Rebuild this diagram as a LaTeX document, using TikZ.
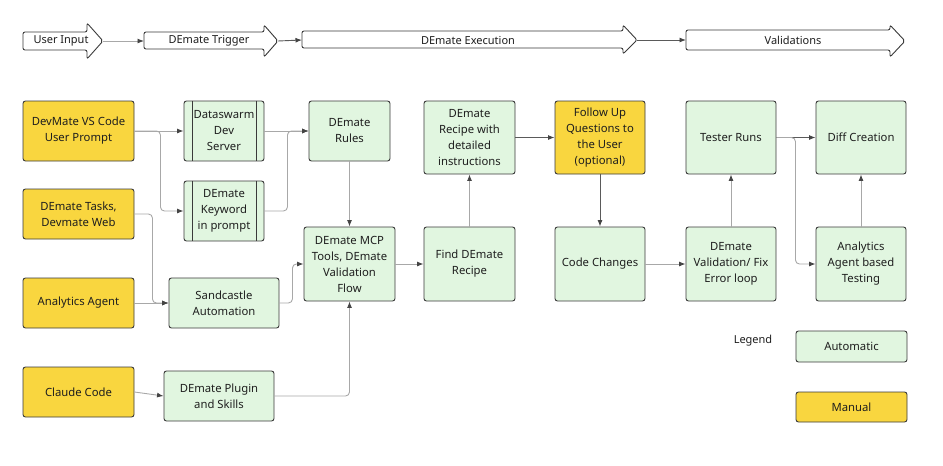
\documentclass[tikz,border=0pt]{standalone}
\usepackage{fontspec}
\setmainfont{Noto Sans}
\usetikzlibrary{arrows.meta}
\definecolor{autofill}{HTML}{E1F6E0}
\definecolor{manfill}{HTML}{F9D63F}
\definecolor{boxborder}{HTML}{3A3A3A}
\definecolor{linelight}{HTML}{A8A8A8}
\definecolor{linedark}{HTML}{5A5A5A}
\definecolor{tipcol}{HTML}{444444}
\definecolor{textcol}{HTML}{1E1E1E}
\tikzset{
  box/.style={draw=boxborder, line width=0.9pt, rounded corners=2.5pt, align=center,
    font=\fontsize{11.3}{16}\selectfont, inner sep=2pt, text=textcol},
  autobox/.style={box, fill=autofill},
  manbox/.style={box, fill=manfill},
  conn/.style={draw=linelight, line width=0.9pt, rounded corners=4pt,
    -{Latex[length=6.5pt,width=5pt,color=tipcol]}},
  conndark/.style={conn, draw=linedark},
  phase/.style={draw=boxborder, line width=0.9pt, fill=white, rounded corners=2pt},
  phasetext/.style={font=\fontsize{11}{13}\selectfont, text=textcol, inner sep=0pt},
}
\begin{document}
\begin{tikzpicture}[x=1pt,y=-1pt]
\useasboundingbox (0,0) rectangle (943,466);

% phase arrows
\draw[phase] (23,32) -- (87,32) -- (87,23) -- (103,41) -- (87,59) -- (87,50) -- (23,50) -- cycle;
\node[phasetext] (ui) at (61,41) {User Input};
\coordinate (uiTip) at (103,41);
\coordinate (trTail) at (144,41);
\draw[phase] (144,32) -- (264,32) -- (264,25) -- (278,41) -- (264,57) -- (264,49) -- (144,49) -- cycle;
\node[phasetext] (tr) at (209,41) {DEmate Trigger};
\coordinate (trTip) at (278,41);
\coordinate (exTail) at (302,40);
\draw[phase] (302,31) -- (623,31) -- (623,25) -- (637,40) -- (623,54) -- (623,48) -- (302,48) -- cycle;
\node[phasetext] (ex) at (468,40) {DEmate Execution};
\coordinate (exTip) at (637,40);
\coordinate (vaTail) at (686,40);
\draw[phase] (686,30) -- (890,30) -- (890,25) -- (905,41) -- (890,57) -- (890,50) -- (686,50) -- cycle;
\node[phasetext] (va) at (793,40) {Validations};

\draw[conn] (uiTip) -- (trTail);
\draw[conndark] (trTip) -- (exTail);
\draw[conndark] (exTip) -- (vaTail);

% left column (manual)
\node[manbox, minimum width=111pt, minimum height=60pt] (devmate) at (78.5,131) {DevMate VS Code\\User Prompt};
\node[manbox, minimum width=111pt, minimum height=50pt] (tasks) at (78.5,214) {DEmate Tasks,\\Devmate Web};
\node[manbox, minimum width=111pt, minimum height=50pt] (analytics) at (78.5,303) {Analytics Agent};
\node[manbox, minimum width=111pt, minimum height=50pt] (claude) at (78.5,392) {Claude Code};

% triggers
\node[autobox, minimum width=80pt, minimum height=60pt] (dataswarm) at (224,131) {Dataswarm\\Dev\\Server};
\draw[boxborder, line width=0.9pt] ([xshift=9pt]dataswarm.north west) -- ([xshift=9pt]dataswarm.south west);
\draw[boxborder, line width=0.9pt] ([xshift=-8pt]dataswarm.north east) -- ([xshift=-8pt]dataswarm.south east);
\node[autobox, minimum width=80pt, minimum height=60pt] (keyword) at (224,211) {DEmate\\Keyword\\in prompt};
\draw[boxborder, line width=0.9pt] ([xshift=9pt]keyword.north west) -- ([xshift=9pt]keyword.south west);
\draw[boxborder, line width=0.9pt] ([xshift=-8pt]keyword.north east) -- ([xshift=-8pt]keyword.south east);
\node[autobox, minimum width=110pt, minimum height=50pt] (sandcastle) at (224,303) {Sandcastle\\Automation};
\node[autobox, minimum width=110pt, minimum height=50pt] (plugin) at (219,396) {DEmate Plugin\\and Skills};

% execution
\node[autobox, minimum width=81pt, minimum height=60pt] (rules) at (349.5,131) {DEmate\\Rules};
\node[autobox, minimum width=91pt, minimum height=74pt] (mcp) at (349.5,264) {DEmate MCP\\Tools, DEmate\\Validation\\Flow};
\node[autobox, minimum width=91pt, minimum height=73pt] (recipe) at (469.5,137.5) {DEmate\\Recipe with\\detailed\\instructions};
\node[autobox, minimum width=91pt, minimum height=74pt] (find) at (469.5,264) {Find DEmate\\Recipe};
\node[manbox, minimum width=90pt, minimum height=73pt] (follow) at (600,137.5) {Follow Up\\Questions to\\the User\\(optional)};
\node[autobox, minimum width=90pt, minimum height=74pt] (code) at (600,264) {Code Changes};

% validations
\node[autobox, minimum width=90pt, minimum height=73pt] (tester) at (731,137.5) {Tester Runs};
\node[autobox, minimum width=90pt, minimum height=74pt] (validfix) at (731,264) {DEmate\\Validation/ Fix\\Error loop};
\node[autobox, minimum width=90pt, minimum height=73pt] (diff) at (861,137.5) {Diff Creation};
\node[autobox, minimum width=90pt, minimum height=74pt] (aatest) at (861,264) {Analytics\\Agent based\\Testing};

% legend
\node[phasetext] (legend) at (753,341) {Legend};
\node[autobox, minimum width=111pt, minimum height=31pt] (legauto) at (851.5,346.5) {Automatic};
\node[manbox, minimum width=111pt, minimum height=30pt] (legman) at (851.5,407) {Manual};

% connectors
\draw[conn] (devmate.east) -- (dataswarm.west);
\draw[conn] (devmate.east) -- ++(26,0) |- (keyword.west);
\draw[conn] (dataswarm.east) -- (rules.west);
\draw[conn] (keyword.east) -- ++(23,0) |- (rules.west);
\draw[conn] (tasks.east) -- ++(18,0) |- (sandcastle.west);
\draw[conn] (analytics.east) -- (sandcastle.west);
\draw[conn] (sandcastle.east) -- ++(13,0) |- (mcp.west);
\draw[conn] (claude.east) -- (plugin.west);
\draw[conn] (plugin.east) -| (mcp.south);
\draw[conn] (rules.south) -- (mcp.north);
\draw[conn] (mcp.east) -- (find.west);
\draw[conn] (find.north) -- (recipe.south);
\draw[conndark] (recipe.east) -- (follow.west);
\draw[conndark] (follow.south) -- (code.north);
\draw[conn] (code.east) -- (validfix.west);
\draw[conn] (validfix.north) -- (tester.south);
\draw[conndark] (tester.east) -- (diff.west);
\draw[conn] (tester.east) -- ++(19,0) |- (aatest.west);
\draw[conn] (aatest.north) -- (diff.south);
\end{tikzpicture}
\end{document}
